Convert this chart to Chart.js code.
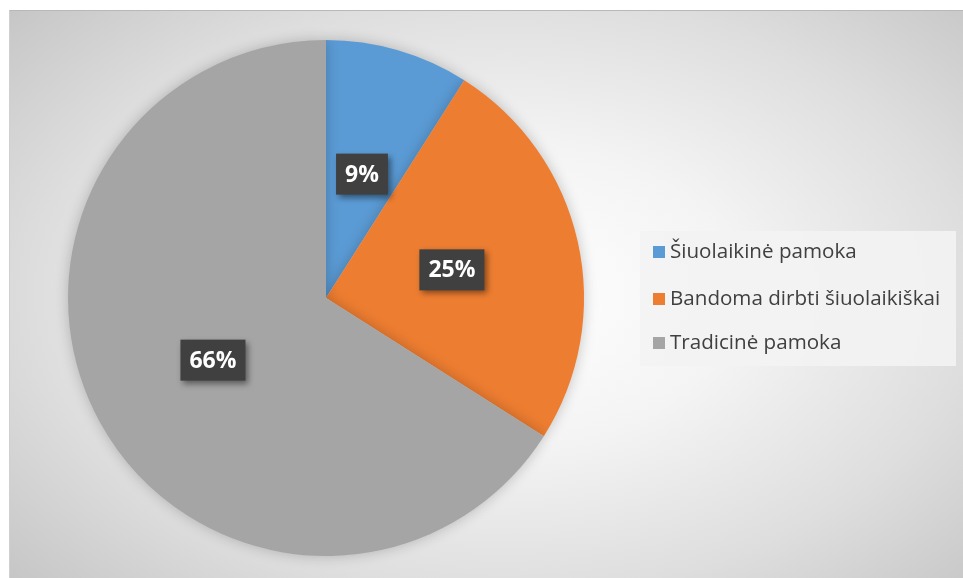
<!DOCTYPE html>
<html>
<head>
<meta charset="utf-8">
<script src="https://cdn.jsdelivr.net/npm/chart.js@4.4.1/dist/chart.umd.min.js"></script>
<style>
  html, body { margin: 0; padding: 0; background: #ffffff; width: 963px; height: 578px; overflow: hidden; }
  #panel {
    position: absolute; left: 9px; top: 10px; width: 954px; height: 568px;
    background: radial-gradient(ellipse 70% 75% at 52% 50%, #ffffff 0%, #f4f4f4 35%, #dedede 70%, #c6c6c6 100%);
    border-top: 1px solid #b8b8b8; border-left: 1px solid #d0d0d0; box-sizing: border-box;
  }
  #chartWrap { position: absolute; left: 0; top: 0; width: 954px; height: 568px; }
  #legend {
    position: absolute; left: 630px; top: 220px; width: 316px; height: 135px;
    background: rgba(243,243,243,0.9);
    font-family: "Open Sans", sans-serif; font-size: 20.6px; color: #404040;
  }
  .item { position: absolute; left: 13px; height: 28px; line-height: 28px; white-space: nowrap; }
  .sw { display: inline-block; width: 12px; height: 12px; margin-right: 5px; vertical-align: 0px; }
</style>
</head>
<body>
<div id="panel">
  <div id="chartWrap"><canvas id="c" width="954" height="568"></canvas></div>
  <div id="legend"></div>
</div>
<script>
const categories = ["Šiuolaikinė pamoka", "Bandoma dirbti šiuolaikiškai", "Tradicinė pamoka"];
const values = [9, 25, 66];
const valueLabels = ["9%", "25%", "66%"];
const colors = ["#5B9BD5", "#ED7D31", "#A5A5A5"];

// HTML legend built from the arrays
const legendEl = document.getElementById('legend');
const itemTops = [5, 52, 96];
categories.forEach((name, i) => {
  const d = document.createElement('div');
  d.className = 'item';
  d.style.top = itemTops[i] + 'px';
  const s = document.createElement('span');
  s.className = 'sw';
  s.style.background = colors[i];
  d.appendChild(s);
  d.appendChild(document.createTextNode(name));
  legendEl.appendChild(d);
});

const shadowPlugin = {
  id: 'pieShadow',
  beforeDatasetsDraw(chart) {
    const ctx = chart.ctx;
    ctx.save();
    ctx.shadowColor = 'rgba(0,0,0,0.22)';
    ctx.shadowBlur = 14;
    ctx.shadowOffsetX = 0;
    ctx.shadowOffsetY = 0;
  },
  afterDatasetsDraw(chart) {
    chart.ctx.restore();
  }
};

const labelPlugin = {
  id: 'boxLabels',
  afterDatasetsDraw(chart) {
    const ctx = chart.ctx;
    const meta = chart.getDatasetMeta(0);
    ctx.save();
    ctx.font = 'bold 23px "Open Sans", sans-serif';
    ctx.textAlign = 'center';
    ctx.textBaseline = 'middle';
    meta.data.forEach((arc, i) => {
      const p = arc.tooltipPosition();
      const txt = valueLabels[i];
      const tw = ctx.measureText(txt).width;
      const w = tw + 18, h = 41;
      ctx.save();
      ctx.shadowColor = 'rgba(0,0,0,0.45)';
      ctx.shadowBlur = 6;
      ctx.shadowOffsetX = 3;
      ctx.shadowOffsetY = 3;
      ctx.fillStyle = '#404040';
      ctx.fillRect(p.x - w / 2, p.y - h / 2, w, h);
      ctx.restore();
      ctx.fillStyle = '#ffffff';
      ctx.fillText(txt, p.x, p.y + 1);
    });
    ctx.restore();
  }
};

new Chart(document.getElementById('c'), {
  type: 'pie',
  data: {
    labels: categories,
    datasets: [{
      data: values,
      backgroundColor: colors,
      borderWidth: 0
    }]
  },
  options: {
    responsive: false,
    animation: false,
    layout: { padding: { left: 58, right: 380, top: 29, bottom: 23 } },
    plugins: {
      legend: { display: false },
      tooltip: { enabled: false }
    }
  },
  plugins: [shadowPlugin, labelPlugin]
});
</script>
</body>
</html>
